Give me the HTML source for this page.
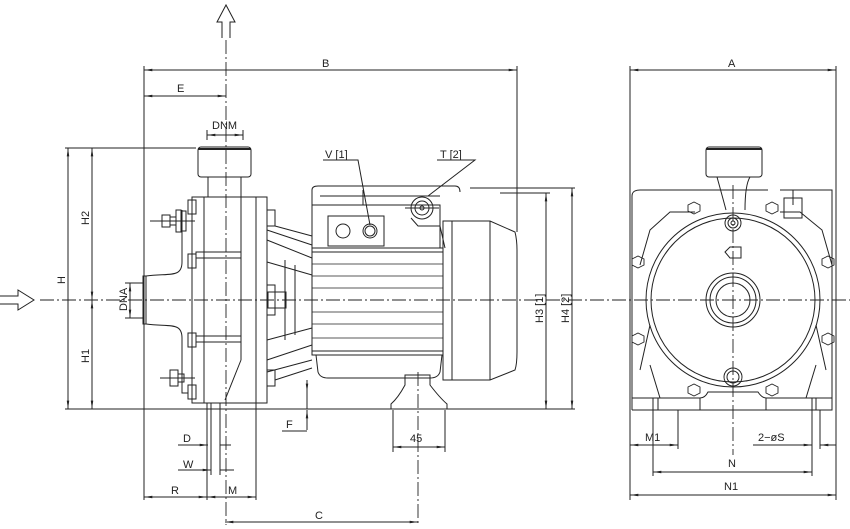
<!DOCTYPE html>
<html><head><meta charset="utf-8"><style>
html,body{margin:0;padding:0;background:#fff}
svg{display:block}
text{font-family:"Liberation Sans",sans-serif;font-size:11px;fill:#222}
</style></head><body>
<svg width="850" height="529" viewBox="0 0 850 529" xmlns="http://www.w3.org/2000/svg">
<defs>
<marker id="a" viewBox="0 0 10 6" refX="10" refY="3" markerWidth="9" markerHeight="5" orient="auto-start-reverse"><path d="M0,1.5 L10,3 L0,4.5 Z" fill="#222"/></marker>
</defs>
<g fill="none" stroke="#222" stroke-width="1">
<g stroke-dasharray="14,3,2,3" stroke-width="0.9">
<line x1="226" y1="40" x2="226" y2="525"/>
<line x1="40" y1="300" x2="850" y2="300"/>
<line x1="733" y1="185" x2="733" y2="455"/>
<line x1="418" y1="372" x2="418" y2="525"/>
</g>
<path d="M222,38 V22 H217 L226,5 L235,22 H230 V38"/>
<path d="M0,296 H18 V290 L34,300 L18,310 V304 H0"/>

<line x1="144" y1="66" x2="144" y2="500"/>
<line x1="517" y1="66" x2="517" y2="232"/>
<line x1="65" y1="148" x2="196" y2="148"/>
<line x1="65" y1="409" x2="575" y2="409"/>
<line x1="207" y1="403" x2="207" y2="500"/>
<line x1="211" y1="403" x2="211" y2="475"/>
<line x1="220" y1="403" x2="220" y2="475"/>
<line x1="256" y1="403" x2="256" y2="500"/>
<line x1="393" y1="410" x2="393" y2="452"/>
<line x1="445" y1="410" x2="445" y2="452"/>
<line x1="470" y1="188" x2="575" y2="188"/>
<line x1="500" y1="193" x2="550" y2="193"/>
<line x1="630" y1="66" x2="630" y2="500"/>
<line x1="836" y1="66" x2="836" y2="500"/>
<line x1="653" y1="410" x2="653" y2="476"/>
<line x1="678" y1="410" x2="678" y2="449"/>
<line x1="812" y1="410" x2="812" y2="476"/>
<line x1="820" y1="410" x2="820" y2="449"/>

<line x1="144" y1="70" x2="517" y2="70" marker-start="url(#a)" marker-end="url(#a)"/>
<line x1="144" y1="96" x2="226" y2="96" marker-start="url(#a)" marker-end="url(#a)"/>
<line x1="207" y1="135" x2="243" y2="135" marker-start="url(#a)" marker-end="url(#a)"/>
<line x1="207" y1="130" x2="207" y2="140"/><line x1="243" y1="130" x2="243" y2="140"/>
<line x1="68" y1="148" x2="68" y2="409" marker-start="url(#a)" marker-end="url(#a)"/>
<line x1="92" y1="148" x2="92" y2="300" marker-start="url(#a)" marker-end="url(#a)"/>
<line x1="92" y1="300" x2="92" y2="409" marker-start="url(#a)" marker-end="url(#a)"/>
<line x1="130" y1="283" x2="130" y2="318" marker-start="url(#a)" marker-end="url(#a)"/>
<line x1="125" y1="283" x2="143" y2="283"/><line x1="125" y1="318" x2="143" y2="318"/>
<line x1="546" y1="193" x2="546" y2="409" marker-start="url(#a)" marker-end="url(#a)"/>
<line x1="572" y1="188" x2="572" y2="409" marker-start="url(#a)" marker-end="url(#a)"/>
<line x1="307" y1="380" x2="307" y2="392" marker-end="url(#a)"/>
<line x1="307" y1="430" x2="307" y2="410" marker-end="url(#a)"/>
<line x1="307" y1="392" x2="307" y2="409"/>
<path d="M282,431 H307"/>
<line x1="178" y1="445" x2="208" y2="445" marker-end="url(#a)"/>
<line x1="220" y1="445" x2="231" y2="445"/>
<line x1="178" y1="470" x2="211" y2="470" marker-end="url(#a)"/>
<line x1="220" y1="470" x2="234" y2="470"/>
<line x1="144" y1="497" x2="207" y2="497" marker-start="url(#a)" marker-end="url(#a)"/>
<line x1="207" y1="497" x2="256" y2="497" marker-start="url(#a)" marker-end="url(#a)"/>
<line x1="225" y1="522" x2="418" y2="522" marker-start="url(#a)" marker-end="url(#a)"/>
<line x1="393" y1="447" x2="445" y2="447" marker-start="url(#a)" marker-end="url(#a)"/>
<line x1="630" y1="70" x2="836" y2="70" marker-start="url(#a)" marker-end="url(#a)"/>
<line x1="630" y1="445" x2="678" y2="445" marker-start="url(#a)" marker-end="url(#a)"/>
<line x1="653" y1="472" x2="812" y2="472" marker-start="url(#a)" marker-end="url(#a)"/>
<line x1="630" y1="495" x2="836" y2="495" marker-start="url(#a)" marker-end="url(#a)"/>
<line x1="753" y1="445" x2="812" y2="445" marker-end="url(#a)"/>
<line x1="836" y1="445" x2="820" y2="445" marker-end="url(#a)"/>
<path d="M323,160 H358 L370,225"/>
<path d="M437,160 H475 L428,196"/>

<rect x="198" y="147" width="53" height="30" rx="3"/>
<line x1="198" y1="149" x2="251" y2="149" stroke-width="2"/>
<rect x="208" y="177" width="33" height="20"/>
<rect x="192" y="197" width="12" height="206"/>
<rect x="204" y="197" width="52" height="206"/>
<rect x="256" y="197" width="11" height="206"/>
<line x1="241" y1="197" x2="241" y2="360"/>
<path d="M241,360 L225,400"/>
<rect x="188" y="200" width="8" height="14"/><rect x="188" y="254" width="8" height="14"/>
<rect x="188" y="333" width="8" height="14"/><rect x="188" y="385" width="8" height="14"/>
<rect x="196" y="252" width="45" height="6"/><rect x="196" y="336" width="45" height="6"/>
<rect x="267" y="210" width="8" height="16"/><rect x="267" y="370" width="8" height="16"/>
<rect x="267" y="285" width="8" height="30"/>
<path d="M162,215 h8 v12 h-8 z M170,217 h6 v8 h-6 z M176,210 h5 v22 h-5 z M181,211 h5 v20 h-5 z"/>
<line x1="150" y1="221" x2="195" y2="221"/>
<path d="M170,370 h8 v16 h-8 z M178,374 h6 v8 h-6 z"/>
<line x1="160" y1="378" x2="195" y2="378"/>
<path d="M182,210 V262 C182,278 170,273 146,276 H143 V324 H146 C170,327 182,322 182,338 V393 H188"/>
<line x1="146" y1="276" x2="146" y2="324"/>
<path d="M267,230 L312,245 M267,240 L312,258 M267,262 L312,275 M267,340 L312,328 M267,360 L312,345 M267,372 L312,360"/>
<path d="M275,226 L312,236 M275,380 L312,368"/>
<path d="M285,260 V340 M295,265 V335"/>
<rect x="268" y="292" width="18" height="16"/>
<path d="M312,248 V190 Q312,186 318,186 H455 Q460,186 460,192"/>
<path d="M312,205 H440 V248 M320,196 H440 M363,190 V205"/>
<rect x="328" y="216" width="56" height="30"/>
<circle cx="343" cy="231" r="7"/><circle cx="370" cy="231" r="7"/><circle cx="370" cy="231" r="5"/>
<circle cx="422" cy="208" r="11"/><circle cx="422" cy="208" r="7"/><circle cx="422" cy="208" r="2"/>
<line x1="405" y1="208" x2="439" y2="208"/>
<path d="M411,218 L418,226 H440 L445,248"/>
<rect x="312" y="248" width="131" height="107"/>
<line x1="312" y1="252" x2="443" y2="252"/>
<line x1="312" y1="351" x2="443" y2="351"/>
<g stroke-width="0.8">
<line x1="312" y1="264" x2="443" y2="264"/><line x1="312" y1="276" x2="443" y2="276"/>
<line x1="312" y1="288" x2="443" y2="288"/><line x1="312" y1="312" x2="443" y2="312"/>
<line x1="312" y1="324" x2="443" y2="324"/><line x1="312" y1="338" x2="443" y2="338"/>
</g>
<path d="M316,355 L318,372 Q320,378 328,378 H430 Q438,378 440,372 L442,355"/>
<rect x="443" y="221" width="9" height="159"/>
<path d="M452,221 H490 L515,232 Q517,240 517,250 V352 Q517,364 515,370 L490,380 H452"/>
<line x1="490" y1="221" x2="490" y2="380"/>
<path d="M405,375 H430 V385 Q440,398 447,404 V409 H391 V404 Q398,398 405,385 Z"/>

<path d="M632,410 V196 Q632,190 640,190 H768 M780,190 H832 V410 H632"/>
<path d="M632,398 H700 Q705,398 708,392 H758 Q762,398 766,398 H832"/>
<path d="M700,410 V398 M766,410 V398"/>
<rect x="706" y="147" width="56" height="30" rx="3"/>
<line x1="706" y1="149" x2="762" y2="149" stroke-width="2"/>
<path d="M717,177 Q722,195 726,210 M750,177 Q745,185 745,210"/>
<circle cx="733" cy="300" r="87"/>
<circle cx="733" cy="300" r="82"/>
<circle cx="733" cy="300" r="27"/><circle cx="733" cy="300" r="23"/><circle cx="733" cy="300" r="17"/>
<circle cx="733" cy="223" r="8"/><circle cx="733" cy="223" r="5"/><circle cx="733" cy="223" r="2"/>
<circle cx="733" cy="377" r="9"/><circle cx="733" cy="377" r="6"/>
<path d="M725,252 L730,247 H741 V258 H730 Z"/>
<path d="M640,265 L650,230 L670,212 L695,212 M832,265 L822,230 L800,212 L780,212"/>
<path d="M650,325 L640,370 M816,325 L826,370 M660,398 L650,365 M806,398 L816,365"/>
<rect x="784" y="198" width="18" height="20"/>
<line x1="793" y1="190" x2="793" y2="205"/>
<g stroke-width="0.9">
<polygon points="688,205 694,202 700,205 700,211 694,214 688,211"/>
<polygon points="766,205 772,202 778,205 778,211 772,214 766,211"/>
<polygon points="632,259 638,256 644,259 644,265 638,268 632,265"/>
<polygon points="822,259 828,256 834,259 834,265 828,268 822,265"/>
<polygon points="632,336 638,333 644,336 644,342 638,345 632,342"/>
<polygon points="822,336 828,333 834,336 834,342 828,345 822,342"/>
<polygon points="688,387 694,384 700,387 700,393 694,396 688,393"/>
<polygon points="766,387 772,384 778,387 778,393 772,396 766,393"/>
</g>
<line x1="653" y1="398" x2="653" y2="410"/><line x1="658" y1="398" x2="658" y2="410"/>
<line x1="812" y1="398" x2="812" y2="410"/><line x1="816" y1="398" x2="816" y2="410"/>
</g>

<text x="322" y="67">B</text>
<text x="177" y="92">E</text>
<text x="212" y="129" font-size="10">DNM</text>
<text x="325" y="158">V [1]</text>
<text x="440" y="158">T [2]</text>
<text x="728" y="67">A</text>
<text transform="translate(65,284) rotate(-90)">H</text>
<text transform="translate(89,225) rotate(-90)">H2</text>
<text transform="translate(89,363) rotate(-90)">H1</text>
<text transform="translate(127,311) rotate(-90)" font-size="10">DNA</text>
<text transform="translate(543,323) rotate(-90)">H3 [1]</text>
<text transform="translate(569,323) rotate(-90)">H4 [2]</text>
<text x="286" y="428">F</text>
<text x="183" y="442">D</text>
<text x="183" y="468">W</text>
<text x="171" y="494">R</text>
<text x="228" y="494">M</text>
<text x="315" y="519">C</text>
<text x="410" y="442">45</text>
<text x="645" y="441">M1</text>
<text x="758" y="441">2−øS</text>
<text x="728" y="467">N</text>
<text x="724" y="490">N1</text>
</svg>
</body></html>
